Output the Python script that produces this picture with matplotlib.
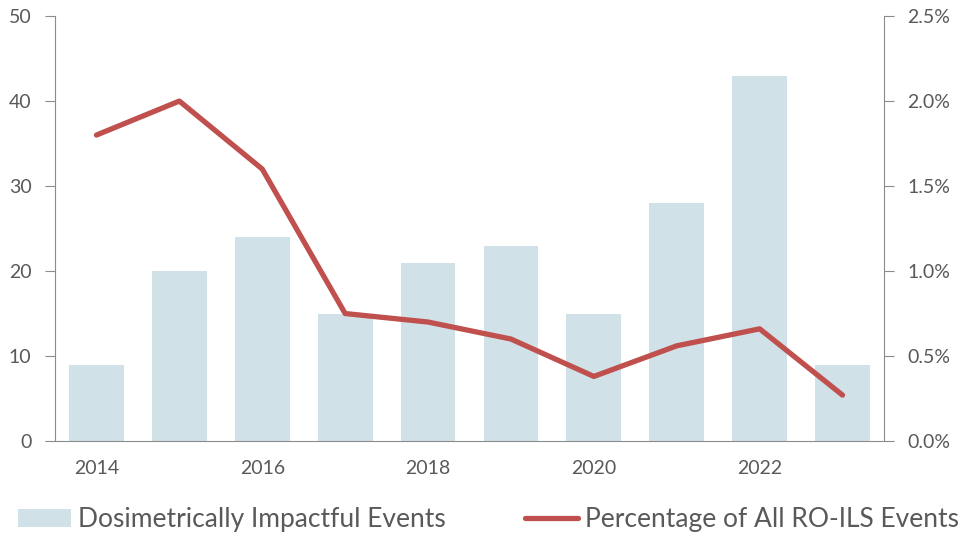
import matplotlib.pyplot as plt
import numpy as np
from matplotlib.ticker import PercentFormatter

plt.rcParams['font.family'] = ['Lato', 'DejaVu Sans']

years = [2014, 2015, 2016, 2017, 2018, 2019, 2020, 2021, 2022, 2023]
events = [9, 20, 24, 15, 21, 23, 15, 28, 43, 9]
pct = [1.80, 2.00, 1.60, 0.75, 0.70, 0.60, 0.38, 0.56, 0.66, 0.27]
xlabels = ['2014', '', '2016', '', '2018', '', '2020', '', '2022', '']

grey = '#595959'
spine = '#8c8c8c'

fig = plt.figure(figsize=(9.77, 5.36), dpi=100)
ax = fig.add_axes([0.0563, 0.1772, 0.8485, 0.7928])
ax2 = ax.twinx()

x = np.arange(len(years))
b = ax.bar(x, events, width=0.66, color='#d0e1e8', label='Dosimetrically Impactful Events')
ln, = ax2.plot(x, pct, color='#c0504d', lw=3.8, solid_capstyle='round',
               label='Percentage of All RO-ILS Events')

ax.set_xlim(-0.5, 9.5)
ax.set_ylim(0, 50)
ax.set_yticks(range(0, 51, 10))
ax2.set_ylim(0, 2.5)
ax2.set_yticks(np.arange(0, 2.51, 0.5))
ax2.yaxis.set_major_formatter(PercentFormatter(decimals=1))
ax.set_xticks(x)
ax.set_xticklabels(xlabels)

for a in (ax, ax2):
    a.spines['top'].set_visible(False)
    for s in a.spines.values():
        s.set_color(spine)
    a.tick_params(colors=spine, labelcolor=grey, labelsize=14, length=7)
ax.spines['right'].set_visible(False)
ax2.spines['left'].set_visible(False)
ax2.spines['bottom'].set_visible(False)
ax.tick_params(axis='x', length=0, pad=14)
ax.tick_params(axis='y', pad=10)
ax2.tick_params(axis='y', pad=10)

fig.legend(handles=[b, ln], loc='center', bbox_to_anchor=(0.5, 0.03), ncol=2,
           frameon=False, fontsize=19, labelcolor=grey, columnspacing=3.0,
           handlelength=2.0, handletextpad=0.27)

fig.savefig('out.png', dpi=100)
